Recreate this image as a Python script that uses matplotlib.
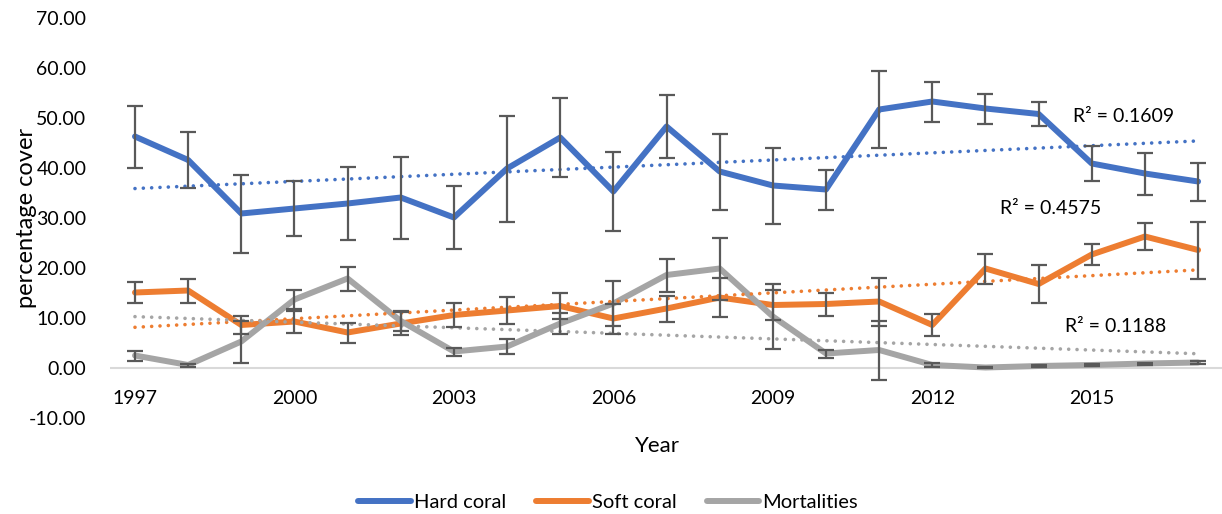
import matplotlib
matplotlib.use("Agg")
import matplotlib.pyplot as plt
import numpy as np

years = list(range(1997, 2018))
hard = [46.3, 41.6, 30.9, 31.9, 32.9, 34.1, 30.1, 39.9, 46.1, 35.3, 48.3,
        39.3, 36.5, 35.7, 51.7, 53.3, 51.9, 50.8, 40.9, 38.9, 37.3]
hard_err = [6.2, 5.6, 7.8, 5.5, 7.3, 8.2, 6.3, 10.6, 7.9, 7.9, 6.3,
            7.6, 7.6, 4.0, 7.7, 4.0, 3.0, 2.4, 3.5, 4.2, 3.8]
soft = [15.1, 15.5, 8.6, 9.3, 7.1, 8.9, 10.6, 11.5, 12.4, 9.9, 11.9,
        14.1, 12.6, 12.8, 13.3, 8.6, 19.9, 16.8, 22.7, 26.3, 23.6]
soft_err = [2.1, 2.4, 1.8, 2.2, 2.0, 2.3, 2.4, 2.7, 2.6, 3.0, 2.6,
            3.9, 3.0, 2.3, 4.8, 2.2, 3.0, 3.8, 2.1, 2.7, 5.7]
mort = [2.5, 0.6, 5.3, 13.7, 17.9, 9.4, 3.3, 4.3, 8.9, 12.9, 18.6,
        19.9, 10.3, 2.9, 3.6, 0.6, 0.1, 0.4, 0.6, 0.9, 1.1]
mort_err = [1.0, 0.3, 4.2, 1.9, 2.4, 2.0, 0.8, 1.5, 2.1, 4.5, 3.3,
            6.2, 6.5, 0.8, 5.9, 0.4, 0.1, 0.2, 0.2, 0.2, 0.3]
series_names = ["Hard coral", "Soft coral", "Mortalities"]
r2_labels = ["R² = 0.1609", "R² = 0.4575", "R² = 0.1188"]
x_ticks = [1997, 2000, 2003, 2006, 2009, 2012, 2015]
y_ticks = [-10, 0, 10, 20, 30, 40, 50, 60, 70]

colors = ["#4472C4", "#ED7D31", "#A5A5A5"]
plt.rcParams['font.family'] = ['Lato', 'DejaVu Sans']

fig = plt.figure(figsize=(12.22, 5.14), dpi=100)
ax = fig.add_axes([110/1222, 1 - 418/514, 1 - 110/1222, 400/514])

data = [(hard, hard_err), (soft, soft_err), (mort, mort_err)]
x = np.array(years, dtype=float)
handles = []
for (vals, errs), c, name in zip(data, colors, series_names):
    h, = ax.plot(x, vals, color=c, lw=4.3, solid_joinstyle='round',
                 solid_capstyle='round', zorder=3, label=name)
    handles.append(h)
for (vals, errs), c in zip(data, colors):
    p = np.polyfit(x, vals, 1)
    ax.plot(x, np.polyval(p, x), color=c, lw=2.6, linestyle=(0, (0.01, 2.3)),
            dash_capstyle='round', zorder=4)
for (vals, errs), c in zip(data, colors):
    ax.errorbar(x, vals, yerr=errs, fmt='none', ecolor='#595959',
                elinewidth=1.6, capsize=6, capthick=1.6, zorder=5)

ax.axhline(0, color='#D9D9D9', lw=1.5, zorder=1)

ax.set_xlim(1996.53, 2017.45)
ax.set_ylim(-10, 70)
ax.set_xticks(x_ticks)
ax.set_xticklabels([str(t) for t in x_ticks], fontsize=14, color='#000000')
ax.set_yticks(y_ticks)
ax.set_yticklabels([f"{t:.2f}" for t in y_ticks], fontsize=14, color='#000000')
ax.tick_params(axis='both', length=0)
ax.tick_params(axis='x', pad=-20)
ax.tick_params(axis='y', pad=17)
for s in ax.spines.values():
    s.set_visible(False)

ax.set_ylabel("percentage cover", fontsize=17, labelpad=-6)
ax.set_xlabel("Year", fontsize=16)
ax.xaxis.set_label_coords((657 - 110) / 1112, -0.045)

r2_pos = [(2014.65, 50.2), (2013.27, 32.0), (2014.5, 8.2)]
for (tx, ty), lab in zip(r2_pos, r2_labels):
    ax.text(tx, ty, lab, fontsize=14, va='center', ha='left', color='#000000')

fig.legend(handles=handles, loc='center', bbox_to_anchor=(608/1222, 1 - 502/514),
           ncol=3, frameon=False, fontsize=14.5, handlelength=2.6,
           handletextpad=0.15, columnspacing=1.5)

fig.savefig("out.png", dpi=100)
